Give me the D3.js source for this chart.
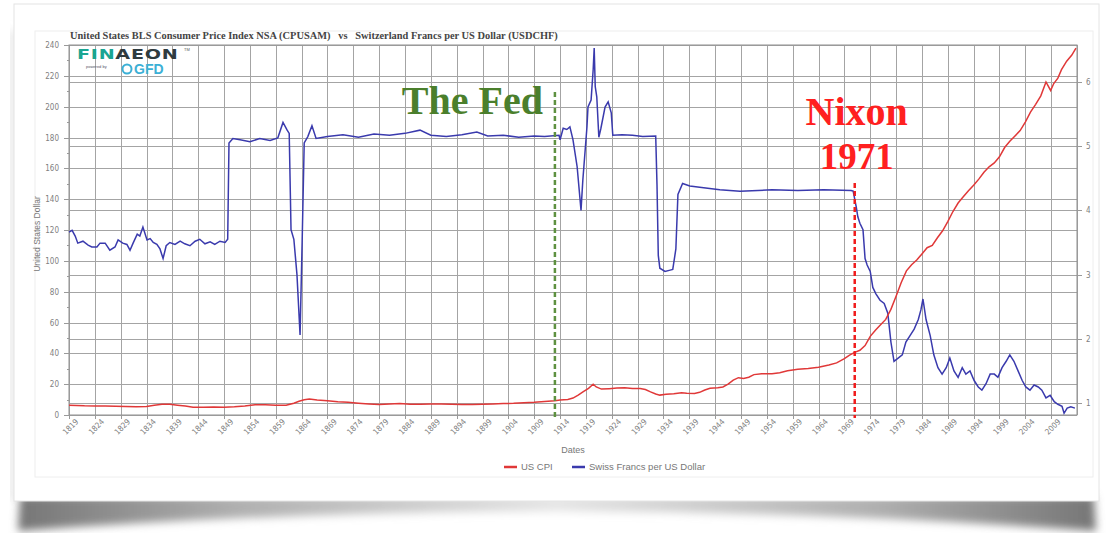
<!DOCTYPE html>
<html>
<head>
<meta charset="utf-8">
<script src="https://cdn.jsdelivr.net/npm/d3@7"></script>
<style>
body { margin: 0; background: #fff; }
svg text { font-family: "Liberation Sans", Arial, sans-serif; }
.grid line { stroke: #a4a4a4; stroke-width: 1; shape-rendering: crispEdges; }
.grid path { stroke: none; }
.axis path, .axis line { stroke: #9a9a9a; shape-rendering: crispEdges; }
.axis text { fill: #808080; font-size: 8px; font-family: "Liberation Sans Narrow", "DejaVu Sans Condensed", sans-serif; }
.cpi { fill: none; stroke: #e03838; stroke-width: 1.5; }
.chf { fill: none; stroke: #3a3aad; stroke-width: 1.5; }
</style>
</head>
<body>
<svg id="visualisation" width="1109" height="533"></svg>
<script>
// tick labels
var xTickYears = [1819, 1824, 1829, 1834, 1839, 1844, 1849, 1854, 1859, 1864, 1869, 1874, 1879,
  1884, 1889, 1894, 1899, 1904, 1909, 1914, 1919, 1924, 1929, 1934, 1939, 1944, 1949, 1954,
  1959, 1964, 1969, 1974, 1979, 1984, 1989, 1994, 1999, 2004, 2009];
var leftTicks = [0, 20, 40, 60, 80, 100, 120, 140, 160, 180, 200, 220, 240];
var rightTicks = [1, 2, 3, 4, 5, 6];

// US CPI (left axis)
var cpi = [
  [1819.0,6.4],[1820.5,6.2],[1822,6.0],[1824,5.9],[1826,5.8],[1828,5.6],[1830,5.5],[1832,5.4],
  [1834,5.5],[1835.5,6.3],[1837,7.0],[1838.5,6.9],[1840,6.3],[1841.5,5.8],[1843,5.1],[1845,5.0],
  [1847,5.2],[1849,5.1],[1851,5.4],[1853,5.9],[1855,6.6],[1857,6.6],[1859,6.3],[1861,6.4],
  [1862.5,7.6],[1863.5,8.9],[1864.5,9.9],[1865.5,10.3],[1867,9.8],[1869,9.3],[1871,8.6],[1873,8.3],
  [1875,7.7],[1877,7.2],[1879,6.8],[1881,7.2],[1883,7.4],[1885,7.0],[1887,7.0],[1889,7.2],
  [1891,7.1],[1893,7.0],[1895,6.8],[1897,6.8],[1899,7.0],[1901,7.2],[1903,7.4],[1905,7.6],
  [1907,8.0],[1909,8.2],[1911,8.7],[1913,9.3],[1914,9.8],[1915.5,10.1],[1916.5,11.0],[1917.5,12.9],
  [1918.5,15.1],[1919.5,17.3],[1920.4,20.0],[1921,18.2],[1922,16.8],[1923.5,17.1],[1925,17.5],
  [1926.5,17.7],[1928,17.2],[1929.5,17.2],[1930.5,16.5],[1931.5,15.0],[1932.5,13.6],[1933.3,12.9],
  [1934.5,13.4],[1936,13.8],[1937.5,14.4],[1938.5,14.1],[1940,14.0],[1941,14.7],[1942,16.2],
  [1943,17.3],[1944.5,17.7],[1945.5,18.2],[1946.5,20.0],[1947.5,22.6],[1948.5,24.2],[1949.5,23.7],
  [1950.5,24.5],[1951.5,26.2],[1953,26.7],[1955,26.8],[1956.5,27.4],[1958,28.7],[1960,29.6],
  [1962,30.2],[1964,31.0],[1966,32.4],[1967.5,33.8],[1969,36.6],[1970,38.8],[1971,40.6],
  [1972,42.0],[1973,45.0],[1974,51.0],[1975,55.0],[1976,58.5],[1977,62.0],[1978,68.5],[1979,77.0],
  [1980,86.0],[1981,93.5],[1982,97.5],[1983,100.5],[1984,104.5],[1985,108.5],[1986,110.0],
  [1987,115.0],[1988,119.5],[1989,125.5],[1990,132.0],[1991,137.5],[1992,141.5],[1993,145.5],
  [1994,149.0],[1995,153.0],[1996,157.5],[1997,161.0],[1998,163.5],[1999,167.5],[2000,173.5],
  [2001,177.5],[2002,181.0],[2003,184.5],[2004,190.0],[2005,196.5],[2006,201.5],[2007,207.0],
  [2008,216.0],[2008.9,210.5],[2009.5,215.0],[2010.3,218.5],[2011,224.0],[2012,229.5],
  [2013,233.5],[2013.8,238.0]
];

// Swiss francs per US dollar (right axis)
var chf = [
  [1819.0,3.66],[1819.6,3.69],[1820.2,3.60],[1820.7,3.49],[1821.7,3.52],[1822.7,3.46],[1823.4,3.43],
  [1824.4,3.43],[1825.0,3.49],[1826.0,3.49],[1826.9,3.38],[1827.9,3.43],[1828.5,3.54],[1829.4,3.49],
  [1830.2,3.47],[1830.8,3.38],[1831.4,3.49],[1832.2,3.63],[1832.7,3.60],[1833.3,3.74],[1834.1,3.54],
  [1834.7,3.56],[1835.3,3.50],[1836.0,3.47],[1836.6,3.40],[1837.2,3.25],[1837.8,3.45],[1838.5,3.50],
  [1839.5,3.47],[1840.5,3.52],[1841.4,3.48],[1842.4,3.45],[1843.4,3.52],[1844.3,3.55],[1845.3,3.48],
  [1846.3,3.51],[1847.2,3.47],[1848.2,3.52],[1849.2,3.50],[1849.7,3.55],[1849.95,5.05],[1850.7,5.12],
  [1852.1,5.10],[1854.0,5.07],[1855.9,5.12],[1857.9,5.09],[1859.4,5.13],[1860.4,5.37],[1861.2,5.25],
  [1861.6,5.20],[1861.95,3.70],[1862.5,3.55],[1863.1,3.00],[1863.7,2.06],[1864.1,3.50],[1864.5,5.05],
  [1865.2,5.15],[1866.0,5.32],[1866.8,5.12],[1869,5.15],[1872,5.18],[1875,5.14],[1878,5.19],
  [1881,5.17],[1884,5.20],[1886.9,5.25],[1889,5.17],[1892,5.15],[1895,5.18],[1897.9,5.22],
  [1900,5.16],[1903,5.17],[1906,5.14],[1909,5.16],[1911,5.15],[1913.8,5.17],[1914.0,5.10],
  [1914.6,5.28],[1915.3,5.26],[1915.9,5.30],[1916.5,5.10],[1917.3,4.68],[1918.05,4.00],[1918.4,4.47],
  [1919.2,5.30],[1919.4,5.61],[1920.0,5.72],[1920.4,6.19],[1920.6,6.53],[1920.8,5.93],[1921.1,5.77],
  [1921.5,5.14],[1921.9,5.28],[1922.7,5.61],[1923.3,5.69],[1923.9,5.52],[1924.2,5.17],[1926,5.18],
  [1928,5.17],[1930,5.15],[1932.5,5.16],[1932.75,4.40],[1933.0,3.30],[1933.3,3.10],[1934.3,3.05],
  [1935.3,3.07],[1935.8,3.08],[1936.4,3.40],[1936.8,4.25],[1937.7,4.42],[1939.1,4.38],[1941.0,4.36],
  [1944.9,4.32],[1948.8,4.30],[1955,4.32],[1960,4.31],[1965,4.32],[1970.3,4.31],[1970.7,4.30],
  [1971.3,4.05],[1971.6,3.90],[1972.0,3.80],[1972.6,3.70],[1973.0,3.25],[1973.4,3.15],[1974.0,3.05],
  [1974.5,2.80],[1975.1,2.70],[1975.9,2.60],[1976.7,2.55],[1977.4,2.40],[1978.0,1.95],[1978.6,1.65],
  [1979.4,1.70],[1980.2,1.75],[1980.9,1.95],[1981.7,2.05],[1982.5,2.15],[1983.3,2.30],[1983.8,2.45],
  [1984.2,2.62],[1984.8,2.30],[1985.6,2.05],[1986.3,1.75],[1987.1,1.55],[1987.9,1.45],[1988.7,1.55],
  [1989.4,1.70],[1990.2,1.50],[1991.0,1.40],[1991.8,1.55],[1992.5,1.45],[1993.3,1.50],[1994.1,1.35],
  [1994.9,1.25],[1995.6,1.20],[1996.4,1.30],[1997.2,1.45],[1998.0,1.45],[1998.7,1.40],[1999.5,1.55],
  [2000.3,1.65],[2001.0,1.75],[2001.8,1.65],[2002.6,1.50],[2003.4,1.35],[2004.1,1.25],[2004.9,1.20],
  [2005.7,1.28],[2006.5,1.25],[2007.2,1.20],[2008.0,1.08],[2008.8,1.12],[2009.6,1.02],[2010.3,0.98],
  [2011.1,0.95],[2011.5,0.84],[2012.1,0.92],[2012.8,0.94],[2013.6,0.92]
];

var events = [
  { year: 1913, label: ["The Fed"], color: "#4b7f2c", dash: "#5e9140" },
  { year: 1971, label: ["Nixon", "1971"], color: "#ff2020", dash: "#f01c1c" }
];

initChart();

function initChart() {
  var svg = d3.select("#visualisation"),
    plot = { left: 69, right: 1077, top: 45, bottom: 415 };

  var xRange = d3.scaleLinear().domain([1819, 2014]).range([plot.left, plot.right]),
    yLeft = d3.scaleLinear().domain([0, 240]).range([plot.bottom, plot.top]),
    yRight = d3.scaleLinear().domain([1, 6]).range([403, 82]);
  yRight.domain([yRight.invert(plot.bottom), yRight.invert(plot.top)]).range([plot.bottom, plot.top]);

  // ---- paper frame with curled shadow
  var defs = svg.append("defs");
  defs.append("filter").attr("id", "blur").attr("x", "-5%").attr("y", "-50%").attr("width", "110%").attr("height", "200%")
    .append("feGaussianBlur").attr("stdDeviation", 4);
  var g1 = defs.append("linearGradient").attr("id", "shade");
  g1.append("stop").attr("offset", "0%").attr("stop-color", "#767676");
  g1.append("stop").attr("offset", "20%").attr("stop-color", "#afafaf");
  g1.append("stop").attr("offset", "50%").attr("stop-color", "#e6e6e6");
  g1.append("stop").attr("offset", "80%").attr("stop-color", "#afafaf");
  g1.append("stop").attr("offset", "100%").attr("stop-color", "#767676");

  svg.append("path")
    .attr("d", "M20,496 L1094,496 L1096,531 Q556,492 18,531 Z")
    .attr("fill", "url(#shade)")
    .attr("filter", "url(#blur)");
  svg.append("rect").attr("x", 11).attr("y", 30).attr("width", 4).attr("height", 470)
    .attr("fill", "#d6d6d6").attr("filter", "url(#blur)");
  svg.append("rect").attr("x", 14).attr("y", 4).attr("width", 1085).attr("height", 497)
    .attr("fill", "#fff").attr("stroke", "#e4e4e4");
  svg.append("rect").attr("x", 35).attr("y", 31).attr("width", 1058).attr("height", 446)
    .attr("fill", "none").attr("stroke", "#eeeeee");

  // ---- grid
  svg.append("g").attr("class", "grid")
    .attr("transform", "translate(0," + plot.bottom + ")")
    .call(d3.axisBottom(xRange).tickValues(xTickYears.concat([2014]))
      .tickSize(-(plot.bottom - plot.top)).tickFormat(""));
  svg.append("g").attr("class", "grid")
    .attr("transform", "translate(" + plot.left + ",0)")
    .call(d3.axisLeft(yLeft).tickValues(leftTicks)
      .tickSize(-(plot.right - plot.left)).tickFormat(""));
  svg.append("g").attr("class", "grid")
    .attr("transform", "translate(" + plot.left + ",0)")
    .call(d3.axisLeft(yRight).tickValues(rightTicks)
      .tickSize(-(plot.right - plot.left)).tickFormat(""));

  svg.append("rect")
    .attr("x", plot.left).attr("y", plot.top)
    .attr("width", plot.right - plot.left).attr("height", plot.bottom - plot.top)
    .attr("fill", "none").attr("stroke", "#8f8f8f");

  // ---- axes
  var xAxis = svg.append("g").attr("class", "x axis")
    .attr("transform", "translate(0," + plot.bottom + ")")
    .call(d3.axisBottom(xRange).tickValues(xTickYears).tickSize(4).tickFormat(d3.format("d")));
  xAxis.select(".domain").remove();
  xAxis.selectAll("text")
    .attr("text-anchor", "end")
    .attr("dx", "0.2em").attr("dy", "0.6em")
    .attr("transform", "rotate(-45)");

  var lAxis = svg.append("g").attr("class", "y axis")
    .attr("transform", "translate(" + plot.left + ",0)")
    .call(d3.axisLeft(yLeft).tickValues(leftTicks).tickSize(5).tickPadding(5));
  lAxis.select(".domain").remove();
  svg.append("g").attr("class", "y axis minor")
    .attr("transform", "translate(" + plot.left + ",0)")
    .call(d3.axisLeft(yLeft).ticks(24).tickSize(2).tickFormat(""))
    .select(".domain").remove();

  var rAxis = svg.append("g").attr("class", "y axis")
    .attr("transform", "translate(" + plot.right + ",0)")
    .call(d3.axisRight(yRight).tickValues(rightTicks).tickSize(5).tickPadding(4).tickFormat(d3.format("d")));
  rAxis.select(".domain").remove();

  svg.append("text")
    .attr("transform", "translate(40," + ((plot.top + plot.bottom) / 2 + 4) + ") rotate(-90)")
    .attr("text-anchor", "middle")
    .attr("fill", "#777").attr("font-size", "8.5px")
    .text("United States Dollar");

  svg.append("text")
    .attr("x", (plot.left + plot.right) / 2).attr("y", 453)
    .attr("text-anchor", "middle")
    .attr("fill", "#777").attr("font-size", "9px")
    .text("Dates");

  // ---- title
  svg.append("text")
    .attr("x", 70).attr("y", 39)
    .attr("fill", "#444").attr("font-size", "10.4px").attr("font-weight", "bold")
    .style("font-family", "'Liberation Serif', 'Times New Roman', serif")
    .style("white-space", "pre")
    .text("United States BLS Consumer Price Index NSA (CPUSAM)   vs   Switzerland Francs per US Dollar (USDCHF)");

  // ---- logo
  var logo = svg.append("g").attr("transform", "translate(77,59)");
  var fin = logo.append("text")
    .attr("font-size", "13.5px").attr("font-weight", "bold").attr("letter-spacing", "0.5px")
    .attr("transform", "scale(1.42,1)")
    .style("font-family", "'DejaVu Sans', sans-serif");
  fin.append("tspan").attr("fill", "#1aa592").text("FIN");
  fin.append("tspan").attr("fill", "#2f3b3f").text("AEON");
  logo.append("text").attr("x", 107).attr("y", -8).attr("font-size", "4px").attr("fill", "#555").text("TM");
  logo.append("text").attr("x", 9).attr("y", 9)
    .attr("font-size", "4px").attr("fill", "#556").text("powered by");
  logo.append("circle").attr("cx", 50).attr("cy", 10).attr("r", 4.5)
    .attr("fill", "none").attr("stroke", "#3cb0d6").attr("stroke-width", 2);
  logo.append("text").attr("x", 57).attr("y", 15)
    .attr("font-size", "14px").attr("font-weight", "bold").attr("fill", "#3cb0d6")
    .text("GFD");

  // ---- series
  var lineCpi = d3.line()
    .x(function (d) { return xRange(d[0]); })
    .y(function (d) { return yLeft(d[1]); });
  var lineChf = d3.line()
    .x(function (d) { return xRange(d[0]); })
    .y(function (d) { return yRight(d[1]); });

  svg.append("path").attr("class", "chf").attr("d", lineChf(chf));
  svg.append("path").attr("class", "cpi").attr("d", lineCpi(cpi));

  // ---- event markers
  var tops = [92, 183];
  events.forEach(function (e, i) {
    var x = xRange(e.year);
    svg.append("line")
      .attr("x1", x).attr("x2", x)
      .attr("y1", tops[i]).attr("y2", plot.bottom + 3)
      .attr("stroke", e.dash).attr("stroke-width", 2.5)
      .attr("stroke-dasharray", "5,3");
  });
  svg.append("text")
    .attr("x", xRange(events[0].year) - 12).attr("y", 114)
    .attr("text-anchor", "end")
    .attr("fill", events[0].color).attr("font-size", "40px").attr("font-weight", "bold")
    .style("font-family", "'Liberation Serif', 'Times New Roman', serif")
    .text(events[0].label[0]);
  var nix = svg.append("text")
    .attr("text-anchor", "middle")
    .attr("fill", events[1].color).attr("font-size", "40px").attr("font-weight", "bold")
    .style("font-family", "'Liberation Serif', 'Times New Roman', serif");
  nix.append("tspan").attr("x", xRange(events[1].year) + 2).attr("y", 125).text(events[1].label[0]);
  nix.append("tspan").attr("x", xRange(events[1].year) + 2).attr("y", 169)
    .attr("font-size", "37px").text(events[1].label[1]);

  // ---- legend
  var legend = svg.append("g").attr("transform", "translate(504,467)");
  var items = [
    { name: "US CPI", color: "#e03838", x: 0 },
    { name: "Swiss Francs per US Dollar", color: "#3a3aad", x: 68 }
  ];
  items.forEach(function (it) {
    legend.append("line").attr("x1", it.x).attr("x2", it.x + 13)
      .attr("stroke", it.color).attr("stroke-width", 2.5);
    legend.append("text").attr("x", it.x + 17).attr("y", 3)
      .attr("fill", "#777").attr("font-size", "9.5px").text(it.name);
  });
}
</script>
</body>
</html>
